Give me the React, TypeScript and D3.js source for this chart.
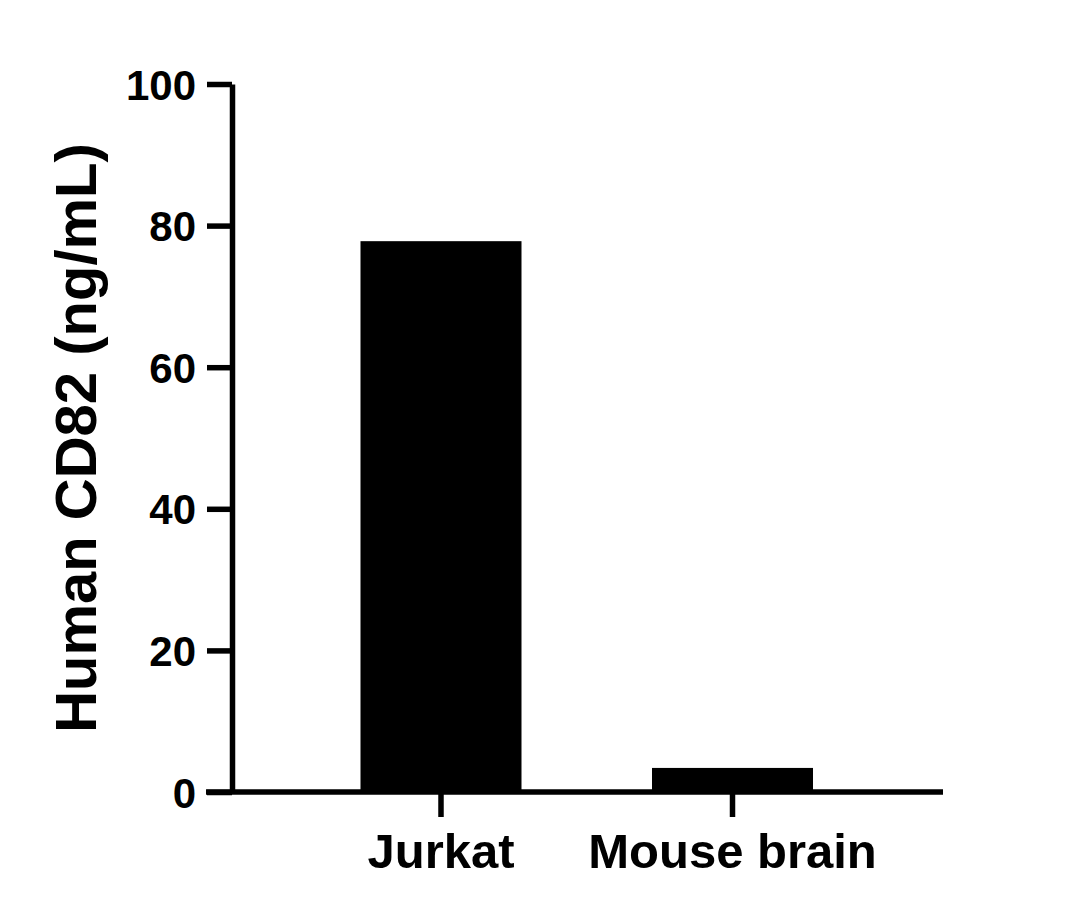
import React, { useEffect, useRef } from 'react';
import * as d3 from 'd3';

const categories = ['Jurkat', 'Mouse brain'];
const values = [77.8, 3.4];
const yTicks = [0, 20, 40, 60, 80, 100];
const yLabel = 'Human CD82 (ng/mL)';

const App = () => {
    const svgRef = useRef(null);

    useEffect(() => {
        document.body.style.margin = '0';
        const svg = d3.select(svgRef.current);
        svg.selectAll('*').remove();

        const font = '"Liberation Sans", Arial, sans-serif';

        // Scales
        const x = d3.scaleBand<string>()
            .domain(categories)
            .range([232, 941.5])
            .paddingInner(0.4477)
            .paddingOuter(0.4408);

        const y = d3.scaleLinear()
            .domain([0, 100])
            .range([792, 84]);

        // Bars
        svg.append('g')
            .selectAll('rect')
            .data(categories)
            .join('rect')
            .attr('x', d => x(d) as number)
            .attr('width', x.bandwidth())
            .attr('y', (d, i) => y(values[i]))
            .attr('height', (d, i) => y(0) - y(values[i]))
            .attr('fill', '#000');

        // Y axis
        const yAxis = d3.axisLeft(y)
            .tickValues(yTicks)
            .tickSize(25)
            .tickSizeOuter(0)
            .tickPadding(11);

        const gy = svg.append('g')
            .attr('transform', 'translate(232,0)')
            .call(yAxis);
        gy.select('.domain').attr('stroke', '#000').attr('stroke-width', 5.5);
        gy.selectAll('.tick line').attr('stroke', '#000').attr('stroke-width', 5.5);
        gy.selectAll('.tick text')
            .attr('fill', '#000')
            .attr('font-family', font)
            .attr('font-weight', 'bold')
            .attr('font-size', 42)
            .attr('dy', '0.36em');

        // X axis
        const xAxis = d3.axisBottom(x)
            .tickSize(25)
            .tickSizeOuter(0)
            .tickPadding(16);

        const gx = svg.append('g')
            .attr('transform', 'translate(0,792)')
            .call(xAxis);
        gx.select('.domain').attr('stroke', '#000').attr('stroke-width', 5.5)
            .attr('d', 'M206,0H943');
        gx.selectAll('.tick line').attr('stroke', '#000').attr('stroke-width', 5.5);
        gx.selectAll('.tick text')
            .attr('fill', '#000')
            .attr('font-family', font)
            .attr('font-weight', 'bold')
            .attr('font-size', 49);

        // Y axis title
        svg.append('text')
            .attr('transform', `translate(96,${(y(0) + y(100)) / 2}) rotate(-90)`)
            .attr('text-anchor', 'middle')
            .attr('fill', '#000')
            .attr('font-family', font)
            .attr('font-weight', 'bold')
            .attr('font-size', 58)
            .text(yLabel);
    }, []);

    return (
        <svg ref={svgRef} width={1091} height={918} style={{ display: 'block', background: '#fff' }}></svg>
    );
};

export default App;
